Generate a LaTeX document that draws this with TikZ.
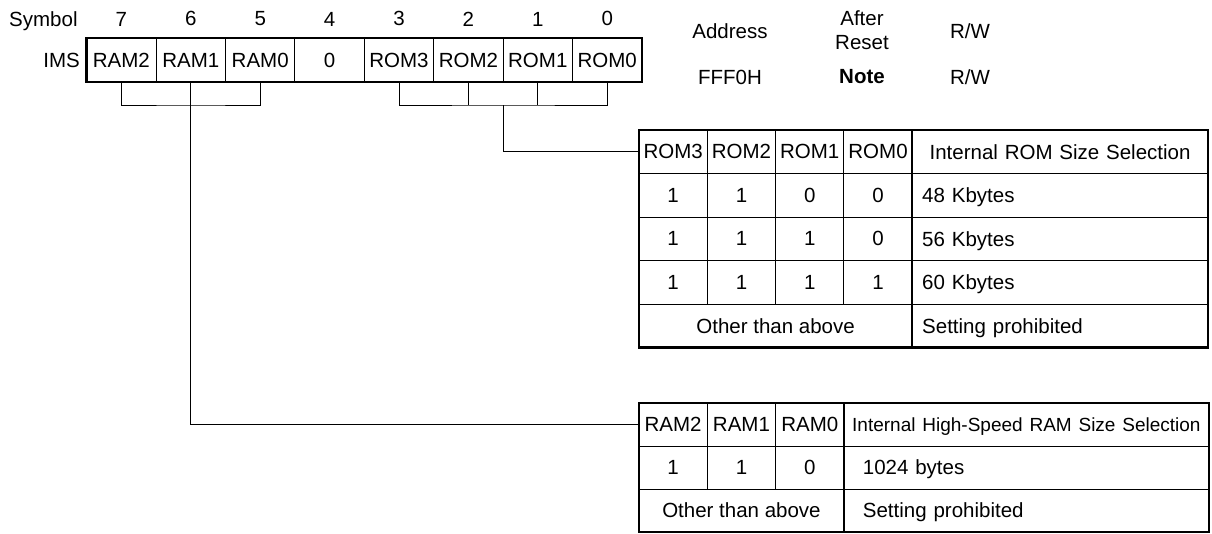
\documentclass[tikz,border=0pt]{standalone}
\usepackage{fontspec}
\setmainfont{Liberation Sans}
\usetikzlibrary{positioning}

\tikzset{
    txt/.style={inner sep=0pt},
    bitcell/.style={draw, line width=0.9pt, rectangle, minimum width=69.4pt,
        minimum height=44pt, inner sep=0pt, outer sep=0pt},
    tabcell/.style={draw, line width=0.9pt, rectangle, minimum width=68.3pt,
        minimum height=43.5pt, inner sep=0pt, outer sep=0pt},
    ramcell/.style={tabcell, minimum height=43pt},
    selcell/.style={draw, line width=0.9pt, rectangle, minimum height=43.5pt,
        inner ysep=0pt, inner xsep=10pt, outer sep=0pt, text width=#1, align=left,
        text height=14.8pt, text depth=0pt},
    frame/.style={line width=2.5pt},
    link/.style={line width=0.9pt},
}

\begin{document}
\begin{tikzpicture}[x=1pt, y=-1pt, font=\fontsize{20.5pt}{24pt}\selectfont]
    \useasboundingbox (0,0) rectangle (1212,533);

    % register IMS
    \node[bitcell] (r7) at (121.4,60) {RAM2};
    \node[bitcell, right=0pt of r7] (r6) {RAM1};
    \node[bitcell, right=0pt of r6] (r5) {RAM0};
    \node[bitcell, right=0pt of r5] (r4) {0};
    \node[bitcell, right=0pt of r4] (r3) {ROM3};
    \node[bitcell, right=0pt of r3] (r2) {ROM2};
    \node[bitcell, right=0pt of r2] (r1) {ROM1};
    \node[bitcell, right=0pt of r1] (r0) {ROM0};
    \draw[frame] (r7.north west) rectangle (r0.south east);
    \node[txt, left=6.7pt of r7] (ims) {IMS};

    % bit numbers
    \node[txt, above=11.7pt of r7] (n7) {7};
    \node[txt, above=11.7pt of r6] (n6) {6};
    \node[txt, above=11.7pt of r5] (n5) {5};
    \node[txt, above=11.7pt of r4] (n4) {4};
    \node[txt, above=11.7pt of r3] (n3) {3};
    \node[txt, above=11.7pt of r2] (n2) {2};
    \node[txt, above=11.7pt of r1] (n1) {1};
    \node[txt, above=11.7pt of r0] (n0) {0};
    \node[txt, base left=37.7pt of n7] (sym) {Symbol};

    % address, reset value, access
    \node[txt] (addr) at (730,31) {Address};
    \node[txt, align=center] (rst) at (862,30) {After\\Reset};
    \node[txt] (rw) at (970,31) {R/W};
    \node[txt] (fff) at (730,77) {FFF0H};
    \node[txt] (note) at (862,77) {\textbf{Note}};
    \node[txt] (rwval) at (970,77) {R/W};

    % ROM size table
    \node[tabcell] (romh3) at (673.15,151.75) {ROM3};
    \node[tabcell, right=0pt of romh3] (romh2) {ROM2};
    \node[tabcell, right=0pt of romh2] (romh1) {ROM1};
    \node[tabcell, right=0pt of romh1] (romh0) {ROM0};
    \node[selcell=275.7pt, align=center, right=0pt of romh0] (romhs) {Internal ROM Size Selection};

    \node[tabcell, below=0pt of romh3] (roma3) {1};
    \node[tabcell, below=0pt of romh2] (roma2) {1};
    \node[tabcell, below=0pt of romh1] (roma1) {0};
    \node[tabcell, below=0pt of romh0] (roma0) {0};
    \node[selcell=275.7pt, below=0pt of romhs] (romas) {48 Kbytes};

    \node[tabcell, below=0pt of roma3] (romb3) {1};
    \node[tabcell, below=0pt of roma2] (romb2) {1};
    \node[tabcell, below=0pt of roma1] (romb1) {1};
    \node[tabcell, below=0pt of roma0] (romb0) {0};
    \node[selcell=275.7pt, below=0pt of romas] (rombs) {56 Kbytes};

    \node[tabcell, below=0pt of romb3] (romc3) {1};
    \node[tabcell, below=0pt of romb2] (romc2) {1};
    \node[tabcell, below=0pt of romb1] (romc1) {1};
    \node[tabcell, below=0pt of romb0] (romc0) {1};
    \node[selcell=275.7pt, below=0pt of rombs] (romcs) {60 Kbytes};

    \node[tabcell, minimum width=273.2pt, anchor=north west] (romo) at (romc3.south west) {Other than above};
    \node[selcell=275.7pt, below=0pt of romcs] (romos) {Setting prohibited};

    \draw[frame] (romh3.north west) rectangle (romos.south east);
    \draw[frame] (romhs.north west) -- (romos.south west);

    % RAM size table
    \node[ramcell] (ramh2) at (673.15,424.5) {RAM2};
    \node[ramcell, right=0pt of ramh2] (ramh1) {RAM1};
    \node[ramcell, right=0pt of ramh1] (ramh0) {RAM0};
    \node[selcell=349pt, inner xsep=8pt, minimum height=43pt, align=center, right=0pt of ramh0] (ramhs)
        {\fontsize{19pt}{24pt}\selectfont Internal High-Speed RAM Size Selection};

    \node[ramcell, below=0pt of ramh2] (rama2) {1};
    \node[ramcell, below=0pt of ramh1] (rama1) {1};
    \node[ramcell, below=0pt of ramh0] (rama0) {0};
    \node[selcell=327pt, inner xsep=19pt, minimum height=43pt, below=0pt of ramhs] (ramas) {1024 bytes};

    \node[ramcell, minimum width=204.9pt, anchor=north west] (ramo) at (rama2.south west) {Other than above};
    \node[selcell=327pt, inner xsep=19pt, minimum height=43pt, below=0pt of ramas] (ramos) {Setting prohibited};

    \draw[frame] (ramh2.north west) rectangle (ramos.south east);
    \draw[frame] (ramhs.north west) -- (ramos.south west);

    % bit field brackets
    \coordinate[below=23pt of r6.south] (ramjoin);
    \coordinate[below=23pt of r2.south east] (romjoin);
    \draw[link] (r7.south) |- (ramjoin) -| (r5.south);
    \draw[link] (r6.south) -- (ramjoin) |- (ramh2.west);
    \draw[link] (r3.south) |- (romjoin) -| (r0.south);
    \draw[link] (r2.south) -- (r2.south |- romjoin);
    \draw[link] (r1.south) -- (r1.south |- romjoin);
    \draw[link] (romjoin) |- (romh3.west);
\end{tikzpicture}
\end{document}
